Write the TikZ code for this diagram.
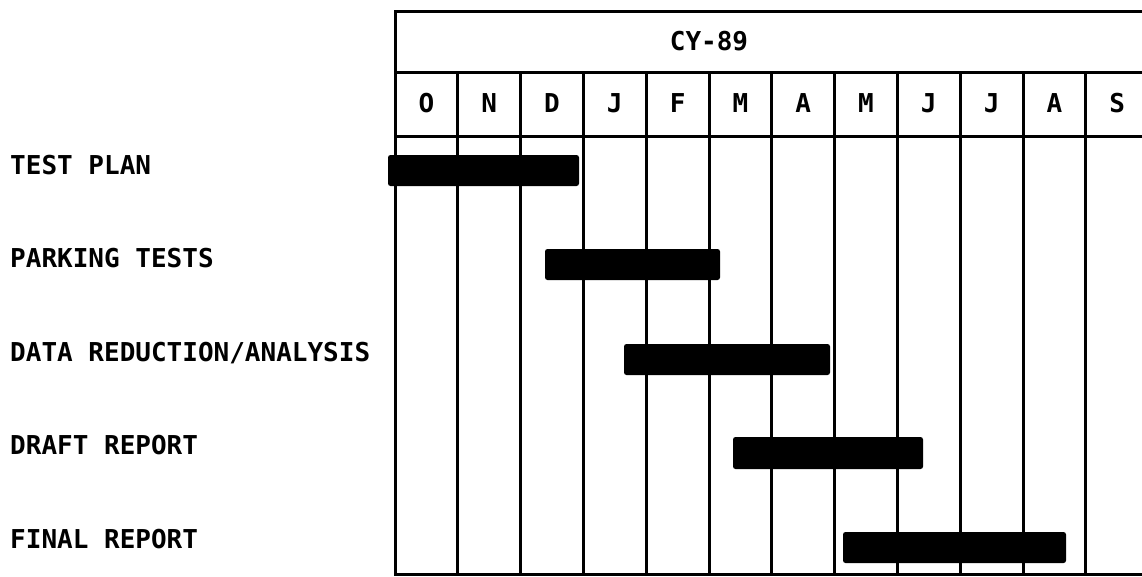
\documentclass[tikz,border=0pt]{standalone}
\usepackage{fontspec}
\setmonofont{DejaVu Sans Mono}
\begin{document}
\begin{tikzpicture}[x=1pt,y=-1pt,
  grid/.style={line width=3pt,line cap=rect},
  bar/.style={fill=black,rounded corners=2.5pt},
  lbl/.style={font=\ttfamily\bfseries\fontsize{26}{27}\selectfont,inner sep=0pt,anchor=base west},
  mon/.style={font=\ttfamily\bfseries\fontsize{26}{27}\selectfont,inner sep=0pt,anchor=base}]
\useasboundingbox (0,0) rectangle (1142,576);
\clip (0,0) rectangle (1142,576);
% frame
\draw[grid] (395,11) -- (1160,11);
\draw[grid] (395,11) -- (395,574) -- (1160,574);
\draw[grid] (395,72) -- (1160,72);
\draw[grid] (395,136) -- (1160,136);
\foreach \i in {1,...,12}{
  \draw[grid] ({395+62.8*\i},72) -- ({395+62.8*\i},574);
}
% header
\node[mon] (cy) at (709,50) {CY-89};
\foreach \m [count=\i from 0] in {O,N,D,J,F,M,A,M,J,J,A,S}{
  \node[mon] (m\i) at ({395+62.8*\i+31.4},112) {\m};
}
% labels
\node[lbl] (t1) at (10,174) {TEST PLAN};
\node[lbl] (t2) at (10,267) {PARKING TESTS};
\node[lbl] (t3) at (10,361) {DATA REDUCTION/ANALYSIS};
\node[lbl] (t4) at (10,454) {DRAFT REPORT};
\node[lbl] (t5) at (10,548) {FINAL REPORT};
% bars
\fill[bar] (388,155) rectangle (579,186);
\fill[bar] (545,249) rectangle (720,280);
\fill[bar] (624,344) rectangle (830,375);
\fill[bar] (733,437) rectangle (923,469);
\fill[bar] (843,532) rectangle (1066,563);
\end{tikzpicture}
\end{document}
